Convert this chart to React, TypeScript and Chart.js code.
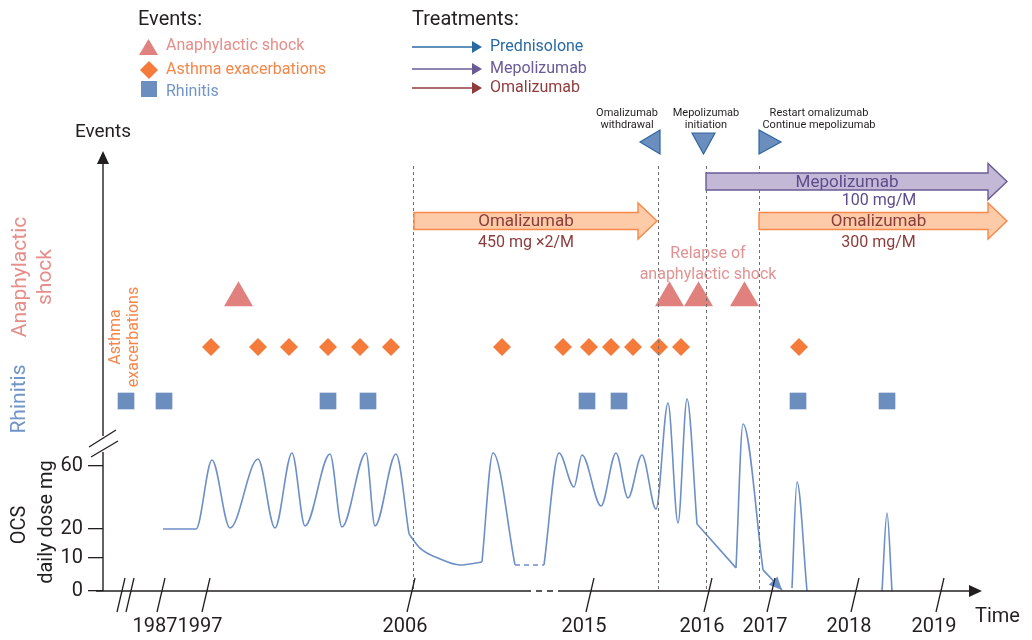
import React, { useEffect, useRef } from 'react';
import { Chart, registerables } from 'chart.js';

Chart.register(...registerables);

// ---------------- data ----------------
// timeline positions (schematic, broken time axis)
const YEAR_LABELS = ['1987', '1997', '2006', '2015', '2016', '2017', '2018', '2019'];
const YEAR_POS = [52, 97, 302, 481, 599, 662, 746, 831];

// OCS axis ticks (mg/day) and the schematic axis spacing
const OCS_TICKS = [0, 10, 20, 60];
const DOSE_KNOTS = [0, 10, 20, 60];
const AXIS_KNOTS = [0, 33, 62, 125];

// events
const RHINITIS_X = [23, 61, 225, 265, 484, 516, 695, 784];
const ASTHMA_X = [108, 155, 186, 225, 257, 288, 399, 460, 486, 508, 530, 556, 578, 696];
const SHOCK_X = [135.5, 566.5, 595.5, 641.5];
const RHINITIS_LEVEL = 190;
const ASTHMA_LEVEL = 244;
const SHOCK_LEVEL = 293;

// OCS daily dose curve, in segments
const OCS1_X = [60, 93, 109, 127, 155, 172, 189, 202, 227, 239, 263, 272, 293, 306];
const OCS1_D = [20, 20, 63.8, 20.6, 64.4, 20.6, 68.3, 21.9, 67.6, 21.3, 68.3, 21.9, 67.6, 18.3];
const OCS2_X = [306, 317, 337, 357, 379];
const OCS2_D = [18.3, 13.4, 9.7, 7.9, 8.8];
const OCS3_X = [379, 390, 412];
const OCS3_D = [8.8, 68.3, 7.9];
const OCS4_X = [412, 441];
const OCS4_D = [7.9, 7.9];
const OCS5_X = [441, 456, 471, 479, 498, 513, 525, 539, 553, 565, 575, 584, 594];
const OCS5_D = [7.9, 68.3, 46.7, 67.0, 34.6, 68.3, 39.7, 67.0, 32.7, 100, 23.8, 102.5, 23.2];
const OCS6_X = [594, 633];
const OCS6_D = [23.2, 7.0];
const OCS7_X = [633, 640, 660];
const OCS7_D = [7.0, 86.7, 6.4];
const OCS8_X = [660, 679];
const OCS8_D = [6.4, 0.3];
const OCS9_X = [689, 694, 704];
const OCS9_D = [0.9, 49.8, 0];
const OCS10_X = [779, 784, 789];
const OCS10_D = [0, 30.2, 0];

// treatments
const TREATMENT_NAMES = ['Omalizumab', 'Mepolizumab', 'Omalizumab'];
const TREATMENT_DOSES = ['450 mg \u00d72/M', '100 mg/M', '300 mg/M'];
const TREATMENT_START = [311, 603, 656];
const TREATMENT_END = [554, 904, 904];
const TREATMENT_ROW = [370, 409.5, 370];

// milestones
const OMALIZUMAB_START_X = 310;
const MILESTONE_X = [555, 603, 656];
const MILESTONE_LABELS = [
  ['Omalizumab', 'withdrawal'],
  ['Mepolizumab', 'initiation'],
  ['Restart omalizumab', 'Continue mepolizumab'],
];
const RELAPSE_X = 605;
const AXIS_GAP = [422, 455];

const LEGEND_TREATMENTS = ['Prednisolone', 'Mepolizumab', 'Omalizumab'];

// ---------------- styles ----------------
const INK = '#231f20';
const CURVE = '#6d8fc7';
const SHOCK_COLOR = '#e0817d';
const SHOCK_TEXT = '#e58e8a';
const ASTHMA_COLOR = '#f47b3a';
const ASTHMA_TEXT = '#f5864a';
const RHIN_COLOR = '#6c8ebf';
const RHIN_TEXT = '#7195c8';
const FONT = 'Roboto, "Noto Sans", "DejaVu Sans", sans-serif';

const TREAT_STYLE: any = {
  Omalizumab: { fill: '#fdcba8', stroke: '#f5894a', text: '#8b3c3c' },
  Mepolizumab: { fill: '#c3b9d7', stroke: '#6b5b97', text: '#5e4b8c' },
};
const LABEL_SHIFT = [0, 0, 5];
const DOSE_SHIFT = [0, 32, 5];
const DOSE_DY = [22, 19, 22];
const LEGEND_TREAT_COLORS = ['#2a6aa3', '#6a5a96', '#8f3b3b'];
const MILESTONE_LABEL_DX = [-31, 0, 60];

function doseToAxis(d: number): number {
  const n = DOSE_KNOTS.length;
  for (let i = 1; i < n; i++) {
    if (d <= DOSE_KNOTS[i] || i === n - 1) {
      const t = (d - DOSE_KNOTS[i - 1]) / (DOSE_KNOTS[i] - DOSE_KNOTS[i - 1]);
      return AXIS_KNOTS[i - 1] + t * (AXIS_KNOTS[i] - AXIS_KNOTS[i - 1]);
    }
  }
  return d;
}

function curveSeg(xs: number[], ds: number[], smooth: boolean, extra: any = {}) {
  return {
    type: 'line',
    data: xs.map((x, i) => ({ x, y: doseToAxis(ds[i]) })),
    borderColor: CURVE,
    borderWidth: 1.6,
    pointRadius: 0,
    pointHoverRadius: 0,
    fill: false,
    clip: false,
    tension: 0,
    cubicInterpolationMode: smooth ? 'monotone' : 'default',
    ...extra,
  };
}

function eventSet(xs: number[], level: number, style: string, radius: number, color: string) {
  return {
    type: 'line',
    data: xs.map((x) => ({ x, y: level })),
    showLine: false,
    pointStyle: style,
    pointRadius: radius,
    pointHoverRadius: radius,
    pointBackgroundColor: color,
    pointBorderColor: color,
    pointBorderWidth: 0,
    clip: false,
  };
}

function line(ctx: any, x1: number, y1: number, x2: number, y2: number) {
  ctx.beginPath();
  ctx.moveTo(x1, y1);
  ctx.lineTo(x2, y2);
  ctx.stroke();
}

function poly(ctx: any, pts: number[][], fill?: string, stroke?: string, lw = 1) {
  ctx.beginPath();
  pts.forEach(([x, y], i) => (i ? ctx.lineTo(x, y) : ctx.moveTo(x, y)));
  ctx.closePath();
  if (fill) {
    ctx.fillStyle = fill;
    ctx.fill();
  }
  if (stroke) {
    ctx.strokeStyle = stroke;
    ctx.lineWidth = lw;
    ctx.stroke();
  }
}

function label(ctx: any, s: string, x: number, y: number, size: number, color: string, align = 'center', rot = 0) {
  ctx.save();
  ctx.translate(x, y);
  if (rot) ctx.rotate(rot);
  ctx.font = `${size}px ${FONT}`;
  ctx.fillStyle = color;
  ctx.textAlign = align;
  ctx.textBaseline = 'middle';
  ctx.fillText(s, 0, 0);
  ctx.restore();
}

const overlayPlugin = {
  id: 'overlay',
  afterDatasetsDraw(chart: any) {
    const { ctx, chartArea: ca, scales } = chart;
    const X = (v: number) => scales.x.getPixelForValue(v);
    ctx.save();
    // milestone dashed lines
    ctx.strokeStyle = '#6d6e71';
    ctx.lineWidth = 1;
    ctx.setLineDash([3, 3]);
    [OMALIZUMAB_START_X, ...MILESTONE_X].forEach((v) => {
      const p = Math.round(X(v)) + 0.5;
      line(ctx, p, ca.top + 16, p, ca.bottom);
    });
    ctx.setLineDash([]);
    // arrowhead on OCS taper segment
    chart.data.datasets.forEach((ds: any, i: number) => {
      if (!ds.arrowEnd) return;
      const pts = chart.getDatasetMeta(i).data;
      const a = pts[0];
      const b = pts[pts.length - 1];
      const ang = Math.atan2(b.y - a.y, b.x - a.x);
      const hl = 13;
      const hw = 6;
      const bx = b.x - Math.cos(ang) * hl;
      const by = b.y - Math.sin(ang) * hl;
      poly(ctx, [
        [b.x, b.y],
        [bx - Math.sin(ang) * hw, by + Math.cos(ang) * hw],
        [bx + Math.sin(ang) * hw, by - Math.cos(ang) * hw],
      ], CURVE);
    });
    ctx.restore();
  },
  afterDraw(chart: any) {
    const { ctx, chartArea: ca, scales } = chart;
    const X = (v: number) => scales.x.getPixelForValue(v);
    const Y = (v: number) => scales.y.getPixelForValue(v);
    const L = ca.left;
    const B = ca.bottom;
    const T = ca.top;
    const R = ca.right;
    ctx.save();
    ctx.strokeStyle = INK;
    ctx.lineWidth = 1.4;
    // y axis with break
    line(ctx, L, T + 12, L, B - 155);
    line(ctx, L, B - 139, L, B);
    poly(ctx, [[L, T + 1], [L - 6, T + 14], [L + 6, T + 14]], INK);
    ctx.strokeStyle = INK;
    ctx.lineWidth = 1.3;
    line(ctx, L - 14, B - 144, L + 13, B - 161);
    line(ctx, L - 12, B - 134, L + 15, B - 150);
    // x axis
    ctx.lineWidth = 1.5;
    line(ctx, L - 7, B, X(AXIS_GAP[0]), B);
    ctx.setLineDash([6, 5]);
    line(ctx, X(AXIS_GAP[0]), B, X(AXIS_GAP[1]), B);
    ctx.setLineDash([]);
    line(ctx, X(AXIS_GAP[1]), B, R - 13, B);
    poly(ctx, [[R - 1, B], [R - 14, B - 6], [R - 14, B + 6]], INK);
    ctx.strokeStyle = INK;
    ctx.lineWidth = 1.3;
    line(ctx, L + 14, B + 21, L + 22, B - 13);
    line(ctx, L + 23, B + 21, L + 31, B - 13);
    YEAR_POS.forEach((v) => {
      const p = X(v);
      line(ctx, p + 2, B + 21, p + 10, B - 13);
    });

    // axis titles
    label(ctx, 'Events', L, T - 18, 19, INK);
    label(ctx, 'Time', R - 8, B + 26, 20, INK, 'left');
    label(ctx, 'OCS', 20, B - 66, 20, INK, 'center', -Math.PI / 2);
    label(ctx, 'daily dose mg', 47, B - 69, 20, INK, 'center', -Math.PI / 2);
    label(ctx, 'Rhinitis', 20, Y(RHINITIS_LEVEL) - 2, 21, RHIN_TEXT, 'center', -Math.PI / 2);
    label(ctx, 'Anaphylactic', 21, 277, 21, SHOCK_TEXT, 'center', -Math.PI / 2);
    label(ctx, 'shock', 46, 277, 21, SHOCK_TEXT, 'center', -Math.PI / 2);
    label(ctx, 'Asthma', 116, 337, 16, ASTHMA_TEXT, 'center', -Math.PI / 2);
    label(ctx, 'exacerbations', 134, 337, 16, ASTHMA_TEXT, 'center', -Math.PI / 2);

    // treatment block arrows
    TREATMENT_NAMES.forEach((name, i) => {
      const st = TREAT_STYLE[name];
      const x0 = X(TREATMENT_START[i]);
      const x1 = X(TREATMENT_END[i]);
      const yc = Y(TREATMENT_ROW[i]);
      const bh = 8.5;
      const hh = 18;
      const hl = 19;
      poly(ctx, [
        [x0, yc - bh], [x1 - hl, yc - bh], [x1 - hl, yc - hh], [x1, yc],
        [x1 - hl, yc + hh], [x1 - hl, yc + bh], [x0, yc + bh],
      ], st.fill, st.stroke, 1.4);
      const cx = (x0 + x1 - hl) / 2;
      label(ctx, name, cx + LABEL_SHIFT[i], yc + 1, 17, st.text);
      label(ctx, TREATMENT_DOSES[i], cx + DOSE_SHIFT[i], yc + DOSE_DY[i], 16, st.text);
    });

    // milestone markers
    MILESTONE_X.forEach((v, i) => {
      const p = X(v);
      let shape: number[][];
      if (i === 0) shape = [[p - 18, T - 8], [p + 2, T - 20], [p + 2, T + 4]];
      else if (i === 1) shape = [[p - 14, T - 17], [p + 9, T - 17], [p - 2.5, T + 4]];
      else shape = [[p, T - 20], [p, T + 4], [p + 22, T - 8]];
      poly(ctx, shape, '#6c8ebf', '#2f67a0', 1.2);
      const lx = p + MILESTONE_LABEL_DX[i];
      label(ctx, MILESTONE_LABELS[i][0], lx, T - 37, 11, INK);
      label(ctx, MILESTONE_LABELS[i][1], lx, T - 25, 11, INK);
    });

    // relapse annotation
    label(ctx, 'Relapse of', X(RELAPSE_X), 254, 16, '#e39292');
    label(ctx, 'anaphylactic shock', X(RELAPSE_X), 275, 16, '#e39292');

    // legend: events
    label(ctx, 'Events:', 138, 20, 20, INK, 'left');
    poly(ctx, [[139, 55], [158, 55], [148.5, 39]], SHOCK_COLOR);
    label(ctx, 'Anaphylactic shock', 166, 46, 16, SHOCK_TEXT, 'left');
    poly(ctx, [[140, 70], [149, 61], [158, 70], [149, 79]], ASTHMA_COLOR);
    label(ctx, 'Asthma exacerbations', 166, 70, 16, ASTHMA_TEXT, 'left');
    ctx.fillStyle = RHIN_COLOR;
    ctx.fillRect(141, 81, 16, 16);
    label(ctx, 'Rhinitis', 166, 92, 16, RHIN_TEXT, 'left');

    // legend: treatments
    label(ctx, 'Treatments:', 412, 20, 20, INK, 'left');
    const ly = [47, 69, 88];
    LEGEND_TREATMENTS.forEach((name, i) => {
      const c = LEGEND_TREAT_COLORS[i];
      ctx.strokeStyle = c;
      ctx.lineWidth = 1.6;
      line(ctx, 412, ly[i], 473, ly[i]);
      poly(ctx, [[472, ly[i] - 6], [482, ly[i]], [472, ly[i] + 6]], c);
      label(ctx, name, 490, ly[i], 16, c, 'left');
    });
    ctx.restore();
  },
};

export default function App() {
  const ref = useRef<HTMLCanvasElement>(null);
  useEffect(() => {
    document.body.style.margin = '0';
    Chart.defaults.font.family = FONT;
    const datasets: any[] = [
      curveSeg(OCS1_X, OCS1_D, true),
      curveSeg(OCS2_X, OCS2_D, true),
      curveSeg(OCS3_X, OCS3_D, true),
      curveSeg(OCS4_X, OCS4_D, false, { borderDash: [5, 4] }),
      curveSeg(OCS5_X, OCS5_D, true),
      curveSeg(OCS6_X, OCS6_D, false),
      curveSeg(OCS7_X, OCS7_D, true),
      curveSeg(OCS8_X, OCS8_D, false, { arrowEnd: true }),
      curveSeg(OCS9_X, OCS9_D, true),
      curveSeg(OCS10_X, OCS10_D, true),
      eventSet(RHINITIS_X, RHINITIS_LEVEL, 'rect', 11.8, RHIN_COLOR),
      eventSet(ASTHMA_X, ASTHMA_LEVEL, 'rectRot', 9, ASTHMA_COLOR),
      eventSet(SHOCK_X, SHOCK_LEVEL, 'triangle', 16.7, SHOCK_COLOR),
    ];
    const chart = new Chart(ref.current as HTMLCanvasElement, {
      type: 'line',
      data: { datasets },
      options: {
        responsive: false,
        animation: false,
        events: [],
        layout: { padding: { left: 40, top: 150, right: 49, bottom: 0 } },
        plugins: { legend: { display: false }, tooltip: { enabled: false } },
        scales: {
          x: {
            type: 'linear',
            min: 0,
            max: 880,
            afterBuildTicks: (s: any) => {
              s.ticks = YEAR_POS.map((v) => ({ value: v }));
            },
            afterFit: (s: any) => {
              s.height = 49;
            },
            grid: { display: false, drawTicks: false },
            border: { display: false },
            ticks: {
              autoSkip: false,
              maxRotation: 0,
              minRotation: 0,
              padding: 24,
              color: INK,
              font: { size: 20, family: FONT },
              callback: (_v: any, i: number) => YEAR_LABELS[i],
            },
          },
          y: {
            type: 'linear',
            min: 0,
            max: 441,
            afterBuildTicks: (s: any) => {
              s.ticks = OCS_TICKS.map((d) => ({ value: doseToAxis(d) }));
            },
            afterFit: (s: any) => {
              s.width = 63;
            },
            grid: { display: true, drawOnChartArea: false, drawTicks: true, tickLength: 15, color: INK, lineWidth: 1.3 },
            border: { display: false },
            ticks: {
              padding: 5,
              color: INK,
              font: { size: 20, family: FONT },
              callback: (_v: any, i: number) => String(OCS_TICKS[i]),
            },
          },
        },
      } as any,
      plugins: [overlayPlugin],
    } as any);
    return () => chart.destroy();
  }, []);
  return (
    <div style={{ position: 'absolute', left: 0, top: 0, width: 1032, height: 640, background: '#fff' }}>
      <canvas ref={ref} width={1032} height={640} style={{ display: 'block', width: 1032, height: 640 }} />
    </div>
  );
}
